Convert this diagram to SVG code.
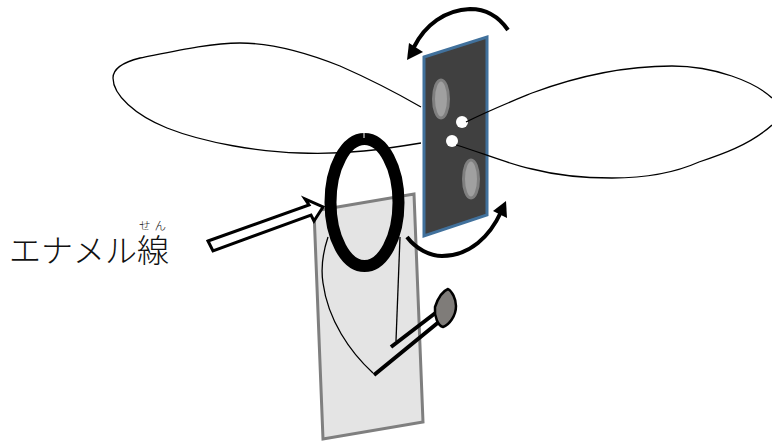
<svg xmlns="http://www.w3.org/2000/svg" width="772" height="441" viewBox="0 0 772 441">
<style>
.w{fill:none;stroke:#000;stroke-width:1.3}
.a{fill:none;stroke:#000;stroke-width:4}
.h{fill:#000;stroke:none}
.s{fill:#a0a0a0;stroke:#7f7f7f;stroke-width:3}
.t{font-family:"Noto Sans CJK JP","Noto Sans CJK SC",serif;font-weight:300;fill:#111}
</style>
<rect width="772" height="441" fill="#fff"/>
<g id="card"><polygon points="314,211 414,194 423,422 323,439" fill="#e4e4e4" stroke="#7f7f7f" stroke-width="3"/></g>
<g id="connectors">
<path class="w" d="M421,107 C395,92 365,77 340,66 C315,56 275,43 240,43 C210,43 175,51 140,58 C120,63 113,70 113,78 C113,95 135,115 167,128 C205,143 260,152 300,153 C345,155 385,149 421,143"/>
<path class="w" d="M328,237 C322,255 321,270 323,283 C328,320 350,352 373,373"/>
<path class="w" d="M400,237 L396,341"/>
<path class="a" d="M508,30 C497,14 483,9 470,9 C445,10 425,25 414,47"/>
<polygon class="h" points="407,60 409,43 423,52"/>
<path class="a" d="M407,237 C416,249 430,256 442,256 C470,256 490,236 501,212"/>
<polygon class="h" points="506,201 493,211 507,218"/>
<polygon points="208,241 309,205 305,199 323,207 314,221 311,215 213,251" fill="#fff" stroke="#000" stroke-width="3"/>
</g>
<g id="coil"><ellipse cx="364.500" cy="202.500" rx="34" ry="63.500" fill="none" stroke="#000" stroke-width="12"/><line x1="364" y1="133" x2="364" y2="138" stroke="#fff" stroke-width="1"/></g>
<g id="magnet"><polygon points="424,57 487,37 487,215 424,236" fill="#404040" stroke="#41719c" stroke-width="3"/>
<ellipse class="s" cx="441" cy="99" rx="7.500" ry="19"/><ellipse class="s" cx="471" cy="179" rx="7.500" ry="19"/>
<circle cx="462" cy="122" r="6" fill="#fff"/><circle cx="452" cy="141" r="6" fill="#fff"/>
</g>
<g id="wire-right"><path class="w" d="M466,122 C490,110 510,102 532,93 C575,77 625,66 672,66 C715,66 755,82 772,98 M772,125 C750,145 720,155 699,162 C670,175 640,178 612,178 C585,178 555,175 532,169 C505,163 480,152 456,145"/></g>
<g id="probe"><path d="M391,347 L438,311 M374,375 L440,321" fill="none" stroke="#000" stroke-width="4"/>
<path d="M435,307 C438,298 443,291 448,289 C452,291 456,299 456,306 C456,316 449,325 443,327 C438,326 434,316 435,307 Z" fill="#7f7c79" stroke="#000" stroke-width="2.500"/></g>
<g id="label"><text class="t" x="9" y="262" font-size="32">エナメル線</text><text class="t" x="139" y="230" font-size="11.500" letter-spacing="4">せん</text></g>
</svg>
